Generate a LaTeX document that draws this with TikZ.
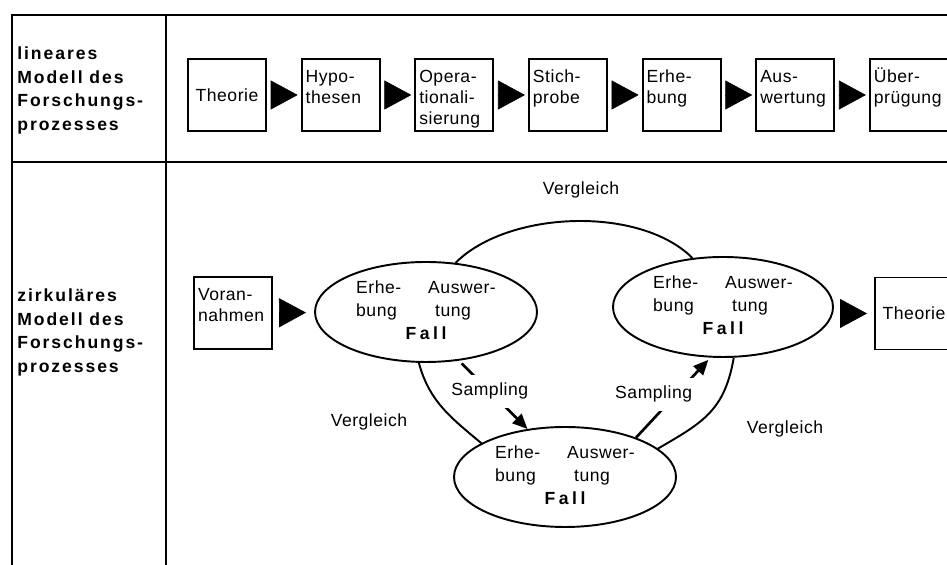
\documentclass[tikz,border=0pt]{standalone}
\usepackage{fontspec}
\setmainfont{Liberation Sans}[LetterSpace=3]
\newfontfamily\kopffont[LetterSpace=11]{Liberation Sans}
\newfontfamily\fallfont[LetterSpace=20]{Liberation Sans}
\usetikzlibrary{positioning,shapes.geometric,arrows.meta}

\renewcommand{\arraystretch}{1.07}
\newcommand{\fallinhalt}{%
  \begin{tabular}{@{}l@{\hspace{.54cm}}l@{}}
    Erhe- & Auswer-\\
    bung  & \hspace{.14cm}tung\\
    \multicolumn{2}{c}{\fallfont\bfseries Fall}
  \end{tabular}}

\tikzset{
  stufe/.style={draw, line width=1.1pt, text width=1.4cm, align=left,
    inner xsep=.08cm, inner ysep=.06cm, text height=.41cm, text depth=.91cm},
  stufemitte/.style={stufe, align=center, text height=, text depth=, minimum height=1.44cm},
  fall/.style={ellipse, draw, line width=1.1pt, minimum width=4.44cm, minimum height=2cm, inner sep=0pt},
  pfeil/.style={-{Triangle[length=.54cm,width=.58cm]}, line width=.4pt},
  sampling/.style={-{Triangle[length=.3cm,width=.26cm]}, line width=1.5pt},
  samplabel/.style={fill=white, inner xsep=.04cm, inner ysep=.16cm},
  bogen/.style={line width=1.1pt},
  kopf/.style={align=left, inner sep=0pt, font=\fontsize{10}{13.4}\selectfont\kopffont\bfseries},
  tabelle/.style={line width=1.3pt}
}

\begin{document}
\begin{tikzpicture}[node distance=2.273cm, on grid]
   \useasboundingbox (0,0) rectangle (18.94,11.3);

   % Tabelle
   \draw[tabelle] (19.1,11) -- (.24,11) -- (.24,-.1);
   \draw[tabelle] (3.32,11) -- (3.32,-.1);
   \draw[tabelle] (.24,8.06) -- (19.1,8.06);

   \node[kopf, anchor=west] (linear) at (.34,9.49) {lineares\\Modell des\\Forschungs-\\prozesses};
   \node[kopf, anchor=west] (zirkulaer) at (.34,4.65) {zirkuläres\\Modell des\\Forschungs-\\prozesses};

   % lineares Modell
   \node[stufemitte] (theorie) at (4.54,9.4) {Theorie};
   \node[stufe] (hypothesen) [right=of theorie] {Hypo-\\thesen};
   \node[stufe] (operation) [right=of hypothesen] {Opera-\\tionali-\\sierung};
   \node[stufe] (stichprobe) [right=of operation] {Stich-\\probe};
   \node[stufe] (erhebung) [right=of stichprobe] {Erhe-\\bung};
   \node[stufe] (auswertung) [right=of erhebung] {Aus-\\wertung};
   \node[stufe] (pruefung) [right=of auswertung] {Über-\\prügung};

   \path[pfeil, shorten <=.1cm, shorten >=.06cm] (theorie) edge (hypothesen);
   \path[pfeil, shorten <=.1cm, shorten >=.06cm] (hypothesen) edge (operation);
   \path[pfeil, shorten <=.1cm, shorten >=.06cm] (operation) edge (stichprobe);
   \path[pfeil, shorten <=.1cm, shorten >=.06cm] (stichprobe) edge (erhebung);
   \path[pfeil, shorten <=.1cm, shorten >=.06cm] (erhebung) edge (auswertung);
   \path[pfeil, shorten <=.1cm, shorten >=.06cm] (auswertung) edge (pruefung);

   % zirkulaeres Modell
   \node[stufe] (voran) at (4.66,5.04) {Voran-\\nahmen};
   \node[fall] (fall1) at (8.52,5.06) {\fallinhalt};
   \node[fall, minimum width=4.4cm] (fall2) at (14.46,5.16) {\fallinhalt};
   \node[fall] (fall3) at (11.3,1.76) {\fallinhalt};
   \node[stufemitte] (theorie2) at (18.28,5.03) {Theorie};

   \path[pfeil, shorten <=.14cm, shorten >=.16cm] (voran) edge (fall1);
   \path[pfeil, shorten <=.16cm, shorten >=.14cm] (fall2.east |- theorie2) edge (theorie2);

   \draw[bogen] (fall1.59) to[out=45, in=135, looseness=.8] (fall2.122);
   \draw[bogen] (fall1.262) to[out=-75, in=140] (fall3.158);
   \draw[bogen] (fall3.17) to[out=30, in=-100, looseness=1.15] (fall2.282);

   \node (vergleich1) at (11.62,7.5) {Vergleich};
   \node (vergleich2) at (7.38,2.86) {Vergleich};
   \node (vergleich3) at (15.7,2.72) {Vergleich};

   \draw[sampling, shorten <=.08cm] (fall1.304) -- node[samplabel, pos=.45] {Sampling} (fall3.128);
   \draw[sampling, shorten >=.06cm] (fall3.29) -- node[samplabel, pos=.54, xshift=-.45cm] {Sampling} (fall2.256);
\end{tikzpicture}
\end{document}
